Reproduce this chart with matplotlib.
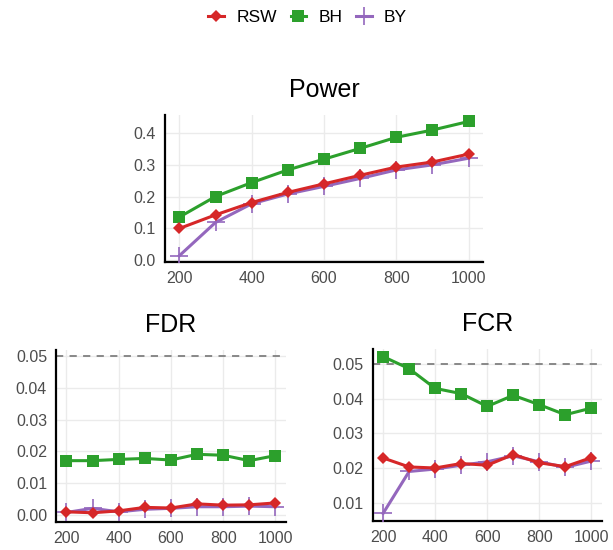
import numpy as np
import matplotlib.pyplot as plt
from matplotlib.lines import Line2D

plt.rcParams['font.family'] = ['Liberation Sans', 'DejaVu Sans']

n_obs = [200, 300, 400, 500, 600, 700, 800, 900, 1000]

power_rsw = [0.099, 0.142, 0.181, 0.213, 0.240, 0.267, 0.293, 0.309, 0.334]
power_bh = [0.135, 0.200, 0.244, 0.284, 0.318, 0.352, 0.387, 0.410, 0.437]
power_by = [0.013, 0.118, 0.177, 0.208, 0.232, 0.257, 0.284, 0.300, 0.321]

fdr_rsw = [0.0010, 0.0007, 0.0013, 0.0024, 0.0022, 0.0035, 0.0031, 0.0032, 0.0038]
fdr_bh = [0.0171, 0.0171, 0.0175, 0.0178, 0.0173, 0.0191, 0.0188, 0.0171, 0.0187]
fdr_by = [0.0008, 0.0021, 0.0010, 0.0018, 0.0021, 0.0026, 0.0026, 0.0028, 0.0026]

fcr_rsw = [0.0229, 0.0203, 0.0200, 0.0213, 0.0208, 0.0239, 0.0215, 0.0204, 0.0230]
fcr_bh = [0.0522, 0.0487, 0.0430, 0.0415, 0.0378, 0.0410, 0.0383, 0.0354, 0.0373]
fcr_by = [0.0069, 0.0190, 0.0197, 0.0208, 0.0218, 0.0235, 0.0218, 0.0202, 0.0220]

alpha_level = 0.05

RED = '#d62728'
GREEN = '#2ca02c'
PURPLE = '#9467bd'

styles = {
    'RSW': dict(color=RED, marker='D', ms=6, mew=0, zorder=5),
    'BH': dict(color=GREEN, marker='s', ms=8.5, mew=0, zorder=4),
    'BY': dict(color=PURPLE, marker='+', ms=13, mew=1.2, zorder=3),
}


def panel(ax, title, rsw, bh, by, yticks, ylim, ref=None):
    ax.set_facecolor('white')
    for name, vals in (('BY', by), ('BH', bh), ('RSW', rsw)):
        ax.plot(n_obs, vals, lw=2.2, **styles[name])
    if ref is not None:
        ax.axhline(ref, color='#808080', lw=1.3, ls=(0, (4, 3.5)), zorder=2)
    ax.set_xlim(160, 1040)
    ax.set_ylim(*ylim)
    ax.set_xticks([200, 400, 600, 800, 1000])
    ax.set_yticks(yticks)
    ax.grid(True, color='#ebebeb', lw=1.0, zorder=0)
    ax.set_axisbelow(True)
    for side in ('top', 'right'):
        ax.spines[side].set_visible(False)
    for side in ('left', 'bottom'):
        ax.spines[side].set_color('black')
        ax.spines[side].set_linewidth(1.6)
    ax.tick_params(length=0, pad=6.5, labelsize=11.5, labelcolor='#4d4d4d')
    ax.set_title(title, fontsize=18, pad=13)


fig = plt.figure(figsize=(6.13, 5.5), dpi=100)

ax_pow = fig.add_axes([0.269, 0.5236, 0.519, 0.267])
panel(ax_pow, 'Power', power_rsw, power_bh, power_by,
      [0.0, 0.1, 0.2, 0.3, 0.4], (-0.007, 0.457))
ax_pow.yaxis.set_major_formatter(plt.FormatStrFormatter('%.1f'))

ax_fdr = fig.add_axes([0.0914, 0.0515, 0.375, 0.312])
panel(ax_fdr, 'FDR', fdr_rsw, fdr_bh, fdr_by,
      [0.0, 0.01, 0.02, 0.03, 0.04, 0.05], (-0.0021, 0.0519), ref=alpha_level)
ax_fdr.yaxis.set_major_formatter(plt.FormatStrFormatter('%.2f'))

ax_fcr = fig.add_axes([0.608, 0.0522, 0.3736, 0.3127])
panel(ax_fcr, 'FCR', fcr_rsw, fcr_bh, fcr_by,
      [0.01, 0.02, 0.03, 0.04, 0.05], (0.0046, 0.0543), ref=alpha_level)
ax_fcr.yaxis.set_major_formatter(plt.FormatStrFormatter('%.2f'))

handles = [Line2D([], [], lw=2.2, **{k: v for k, v in styles[n].items() if k != 'zorder'})
           for n in ('RSW', 'BH', 'BY')]
fig.legend(handles, ['RSW', 'BH', 'BY'], loc='center', bbox_to_anchor=(0.502, 0.969),
           ncol=3, frameon=False, fontsize=12.5, handlelength=0.9,
           handletextpad=0.7, columnspacing=0.8)

fig.savefig('out.png', dpi=100, facecolor='white')
